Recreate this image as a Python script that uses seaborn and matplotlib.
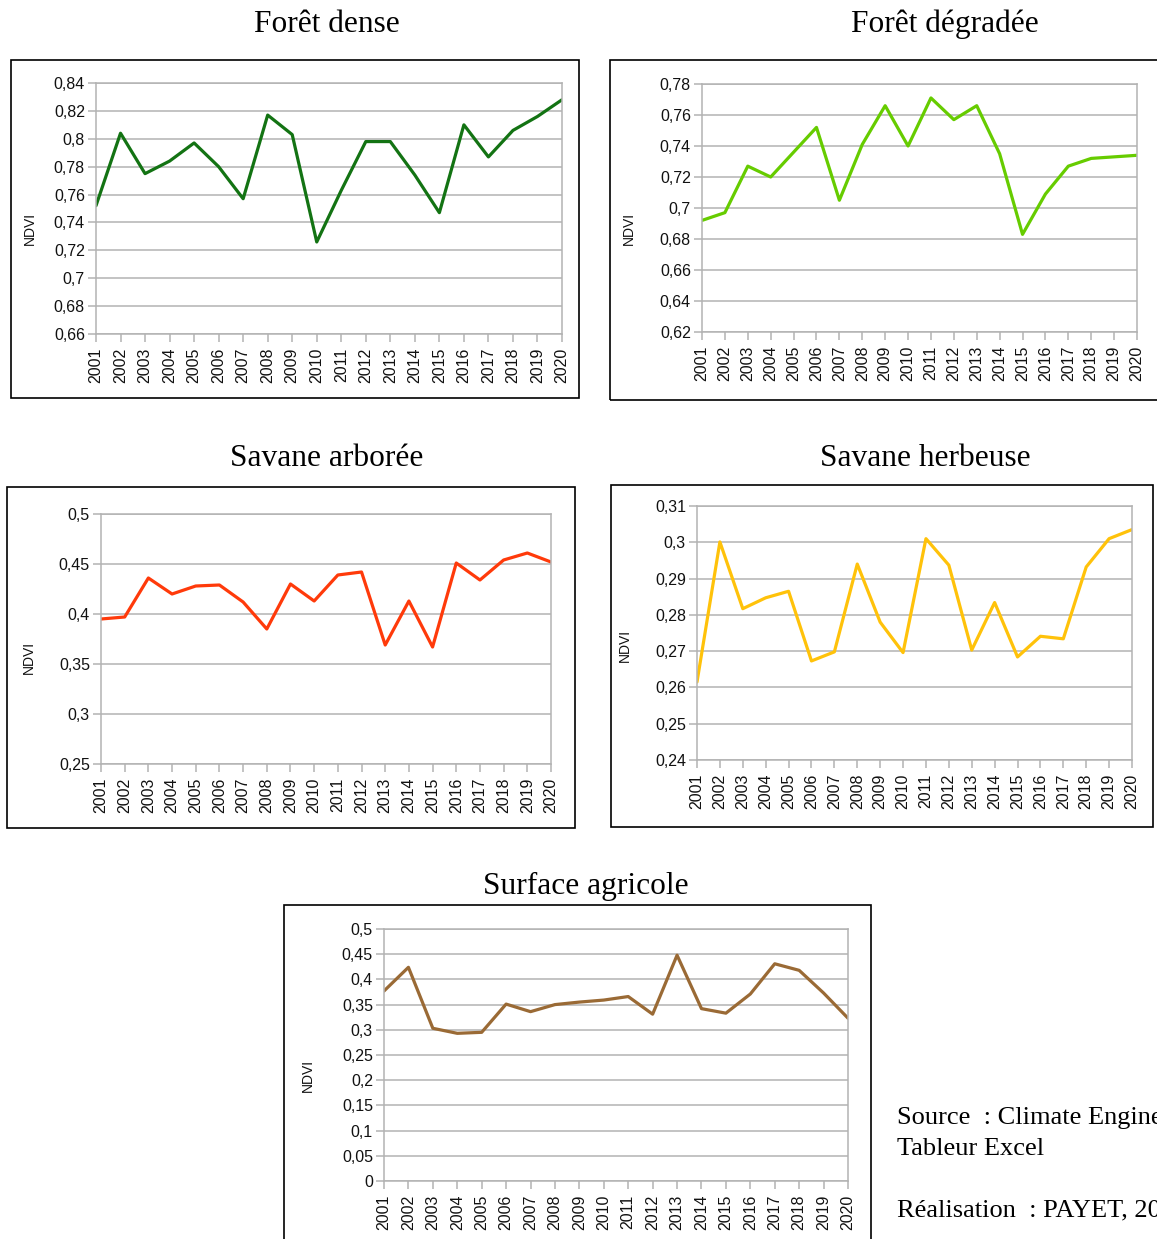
import numpy as np
import pandas as pd
import seaborn as sns
import matplotlib as mpl
from matplotlib import pyplot as plt
from matplotlib.patches import Rectangle
from matplotlib.ticker import FuncFormatter

sns.set_theme(style='white')
plt.rcParams['font.family'] = ['Liberation Sans', 'DejaVu Sans']

years = list(range(2001, 2021))

foret_dense = [0.752, 0.804, 0.775, 0.784, 0.797, 0.780, 0.757, 0.817, 0.803, 0.726,
               0.763, 0.798, 0.798, 0.774, 0.747, 0.810, 0.787, 0.806, 0.816, 0.828]
foret_degradee = [0.692, 0.697, 0.727, 0.720, 0.736, 0.752, 0.705, 0.741, 0.766, 0.740,
                  0.771, 0.757, 0.766, 0.735, 0.683, 0.709, 0.727, 0.732, 0.733, 0.734]
savane_arboree = [0.395, 0.397, 0.436, 0.420, 0.428, 0.429, 0.412, 0.385, 0.430, 0.413,
                  0.439, 0.442, 0.369, 0.413, 0.367, 0.451, 0.434, 0.454, 0.461, 0.452]
savane_herbeuse = [0.2615, 0.3001, 0.2817, 0.2847, 0.2865, 0.2673, 0.2698, 0.2940, 0.2780, 0.2696,
                   0.3010, 0.2937, 0.2703, 0.2834, 0.2684, 0.2741, 0.2734, 0.2932, 0.3010, 0.3035]
surface_agricole = [0.377, 0.424, 0.303, 0.293, 0.295, 0.351, 0.336, 0.350, 0.355, 0.359,
                    0.366, 0.331, 0.448, 0.342, 0.333, 0.371, 0.431, 0.418, 0.373, 0.323]

W, H = 1157, 1239
fig = plt.figure(figsize=(W / 100, H / 100), dpi=100)

def px_axes(x0, y0, x1, y1):
    # pixel box (top-left origin) -> figure axes
    return fig.add_axes([x0 / W, 1 - y1 / H, (x1 - x0) / W, (y1 - y0) / H])

def frame(x0, y0, x1, y1):
    fig.patches.append(Rectangle((x0 / W, 1 - y1 / H), (x1 - x0) / W, (y1 - y0) / H,
                                 transform=fig.transFigure, fill=False,
                                 edgecolor='black', linewidth=1.2, zorder=0))

fmt = FuncFormatter(lambda v, p: f"{round(v, 3):g}".replace('.', ','))

panels = [
    # title, values, color, ymin, ymax, step, plot box, frame box, title xy, ylabel xy (right edge)
    ("Forêt dense", foret_dense, '#137313', 0.66, 0.84, 0.02,
     (96, 83, 562, 334), (11, 60, 579, 398), (327, 24), (37, 228)),
    ("Forêt dégradée", foret_degradee, '#66cc00', 0.62, 0.78, 0.02,
     (702, 84, 1137, 332), (610, 60, 1165, 400), (945, 24), (636, 228)),
    ("Savane arborée", savane_arboree, '#ff3a0a', 0.25, 0.5, 0.05,
     (101, 514, 551, 764), (7, 487, 575, 828), (327, 459), (36, 657)),
    ("Savane herbeuse", savane_herbeuse, '#ffc20a', 0.24, 0.31, 0.01,
     (697, 506, 1132, 760), (611, 485, 1153, 827), (925, 459), (632, 645)),
    ("Surface agricole", surface_agricole, '#9a6a35', 0.0, 0.5, 0.05,
     (384, 929, 848, 1181), (284, 905, 871, 1250), (586, 886), (315, 1075)),
]

grey = '#b3b3b3'
for title, vals, color, ymin, ymax, step, box, fbox, txy, lxy in panels:
    frame(*fbox)
    ax = px_axes(*box)
    df = pd.DataFrame({'year': years, 'NDVI': vals})
    sns.lineplot(data=df, x='year', y='NDVI', ax=ax, color=color, linewidth=2.3)
    ax.set_xlim(2001, 2020)
    ax.set_ylim(ymin, ymax)
    ax.set_xticks(years)
    ax.set_xticklabels([str(y) for y in years], rotation=90)
    ax.set_yticks(np.arange(ymin, ymax + step / 2, step))
    ax.yaxis.set_major_formatter(fmt)
    ax.grid(axis='y', color=grey, linewidth=1.1)
    ax.set_axisbelow(True)
    for s in ax.spines.values():
        s.set_color(grey)
        s.set_linewidth(1.1)
    ax.tick_params(axis='both', which='major', length=6, width=1.1, color=grey,
                   labelsize=11.5, labelcolor='#111111', bottom=True, left=True)
    ax.tick_params(axis='y', pad=2)
    ax.tick_params(axis='x', pad=4)
    ax.set_xlabel('')
    ax.set_ylabel('NDVI', fontsize=10, color='#111111')
    x0, y0, x1, y1 = box
    ax.yaxis.set_label_coords((lxy[0] - x0) / (x1 - x0), (y1 - lxy[1]) / (y1 - y0))
    fig.text(txy[0] / W, 1 - txy[1] / H, title, ha='center', va='center',
             fontsize=22.6, family='Liberation Serif', color='black')

fig.text(897 / W, 1 - 1118 / H, "Source  : Climate Engine", ha='left', va='center',
         fontsize=19, family='Liberation Serif', color='black')
fig.text(897 / W, 1 - 1149 / H, "Tableur Excel", ha='left', va='center',
         fontsize=19, family='Liberation Serif', color='black')
fig.text(897 / W, 1 - 1210 / H, "Réalisation  : PAYET, 2021", ha='left', va='center',
         fontsize=19, family='Liberation Serif', color='black')

fig.savefig('out.png', dpi=100)
